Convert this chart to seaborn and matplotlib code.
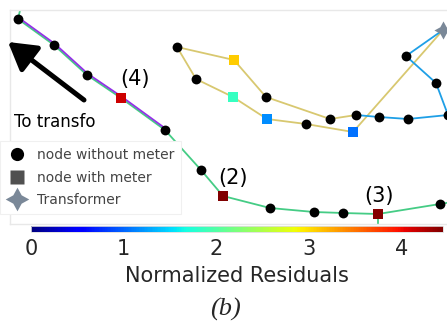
import numpy as np
import pandas as pd
import matplotlib
matplotlib.use("Agg")
import matplotlib.pyplot as plt
import matplotlib.transforms as mtransforms
from matplotlib.lines import Line2D
from matplotlib.patches import FancyArrowPatch
import seaborn as sns

# ---------------- data ----------------
# node layout positions (layout units) and meter residuals
node_x = [18, 54, 87, 121, 165, 201, 223, 270, 314, 343, 378, 440,
          177, 234, 266, 330, 356, 196, 233, 267, 306, 353,
          443, 406, 436, 448, 408, 379,
          22, 458, 378]
node_y = [19, 45, 75, 98, 130, 170, 196, 208, 212, 213, 214, 204,
          47, 60, 97, 119, 115, 79, 97, 119, 124, 132,
          30, 56, 83, 115, 119, 117,
          2, 201, 232]
node_kind = ["plain", "plain", "plain", "meter", "plain", "plain", "meter", "plain",
             "plain", "plain", "meter", "plain",
             "plain", "meter", "plain", "plain", "plain", "plain", "meter", "meter",
             "plain", "meter",
             "transformer", "plain", "plain", "plain", "plain", "plain",
             "hidden", "hidden", "hidden"]
node_residual = [np.nan, np.nan, np.nan, 4.15, np.nan, np.nan, 4.45, np.nan,
                 np.nan, np.nan, 4.42, np.nan,
                 np.nan, 3.08, np.nan, np.nan, np.nan, np.nan, 1.85, 1.18,
                 np.nan, 1.05,
                 np.nan, np.nan, np.nan, np.nan, np.nan, np.nan,
                 np.nan, np.nan, np.nan]

green_path = [28, 0, 1, 2, 3, 4, 5, 6, 7, 8, 9, 10, 11, 29]
green_stub = [10, 30]
purple_path = [0, 1, 2, 3, 4]
yellow_paths = [[12, 13, 14, 15, 16], [12, 17, 18, 19, 20, 21, 22]]
blue_paths = [[22, 23, 24, 25, 26, 27, 16]]

callout_nodes = [3, 6, 10]
callout_text = ["(4)", "(2)", "(3)"]
callout_offset = [(10, 14), (7, 13), (1, 13)]

cbar_ticks = [0, 1, 2, 3, 4]
res_min, res_max = 0.0, 4.45

legend_labels = ["node without meter", "node with meter", "Transformer"]

# ---------------- figure ----------------
sns.set_style("white")
plt.rcParams["font.family"] = ["DejaVu Sans"]

W, H = 447, 325
fig = plt.figure(figsize=(W / 100, H / 100), dpi=100)
ax = fig.add_axes([10 / W, (H - 224) / H, (W - 10) / W, 214 / H])

df = pd.DataFrame(dict(x=node_x, y=node_y, kind=node_kind, residual=node_residual))
nx_arr = np.array(node_x, dtype=float)
ny_arr = np.array(node_y, dtype=float)
jet = matplotlib.colormaps["jet"]

lw = 1.3
# green feeder
ax.plot(nx_arr[green_path], ny_arr[green_path], color="#45cc85", lw=lw, zorder=2,
        solid_capstyle="butt")
ax.plot(nx_arr[green_stub], ny_arr[green_stub], color="#45cc85", lw=lw, zorder=2)
# purple (parallel, slightly offset)
off = mtransforms.offset_copy(ax.transData, fig=fig, x=0.8, y=1.2, units="dots")
ax.plot(nx_arr[purple_path], ny_arr[purple_path], color="#9333e6", lw=lw, zorder=2,
        transform=off)
for p in yellow_paths:
    ax.plot(nx_arr[p], ny_arr[p], color="#d8c870", lw=lw, zorder=2)
for p in blue_paths:
    ax.plot(nx_arr[p], ny_arr[p], color="#1e9fe6", lw=lw, zorder=2)

norm = matplotlib.colors.Normalize(res_min, res_max)
plain = df[df.kind == "plain"]
sns.scatterplot(data=plain, x="x", y="y", color="black", s=50, linewidth=0,
                ax=ax, zorder=4, legend=False)
meter = df[df.kind == "meter"]
sns.scatterplot(data=meter, x="x", y="y", hue="residual", palette=jet,
                hue_norm=norm, marker="s", s=44, linewidth=0, ax=ax, zorder=5,
                legend=False)
trans = df[df.kind == "transformer"]
sns.scatterplot(data=trans, x="x", y="y", color="#7a8898", marker=(4, 1, 0),
                s=170, linewidth=0, ax=ax, zorder=5, legend=False)

for i, t, o in zip(callout_nodes, callout_text, callout_offset):
    ax.annotate(t, (node_x[i], node_y[i]), xytext=o, textcoords="offset points",
                ha="center", va="center", fontsize=15, color="black", zorder=6)

ax.set_xlim(10, 447)
ax.set_ylim(224, 10)
ax.set_xlabel("")
ax.set_ylabel("")
ax.set_xticks([])
ax.set_yticks([])
for s in ["top", "left", "bottom"]:
    ax.spines[s].set_color("#e8e8e8")
    ax.spines[s].set_linewidth(1.0)
ax.spines["right"].set_visible(False)

# arrow "To transformer"
arr = FancyArrowPatch((84, 100), (8, 42), transform=ax.transData,
                      arrowstyle="-|>,head_length=1.1,head_width=0.65",
                      mutation_scale=15, lw=3.6, color="black", clip_on=False,
                      zorder=6, shrinkA=0, shrinkB=0)
fig.add_artist(arr)
ax.text(14, 122, "To transfo", fontsize=12, ha="left", va="center", color="black",
        zorder=6)

# legend
handles = [
    Line2D([], [], ls="", marker="o", ms=9.5, color="black", mec="none"),
    Line2D([], [], ls="", marker="s", ms=9.5, color="#505050", mec="none"),
    Line2D([], [], ls="", marker=(4, 1, 0), ms=17, color="#7a8898", mec="none"),
]
leg = fig.legend(handles, legend_labels, loc="upper left",
                 bbox_to_anchor=(0.0, 1 - 141 / H), borderaxespad=0,
                 frameon=True, fancybox=False, framealpha=1, edgecolor="#f0f0f0",
                 facecolor="white", fontsize=10, labelcolor="#444444",
                 handlelength=1.4, handletextpad=0.75, labelspacing=0.62,
                 borderpad=0.5)
leg.get_frame().set_linewidth(0.8)

# colorbar
cax = fig.add_axes([31 / W, (H - 232) / H, 412 / W, 6 / H])
sm = matplotlib.cm.ScalarMappable(norm=norm, cmap=jet)
cb = fig.colorbar(sm, cax=cax, orientation="horizontal", ticks=cbar_ticks)
cb.outline.set_edgecolor("#dddddd")
cb.outline.set_linewidth(0.6)
cax.tick_params(length=0, labelsize=15, pad=5)
cax.set_xticklabels([str(t) for t in cbar_ticks])
cb.set_label("Normalized Residuals", fontsize=15, labelpad=5)

fig.text(225 / W, 1 - 309 / H, "(b)", fontsize=19, style="italic",
         family=["Liberation Serif", "DejaVu Serif"], ha="center", va="center")

fig.savefig("out.png", dpi=100)
